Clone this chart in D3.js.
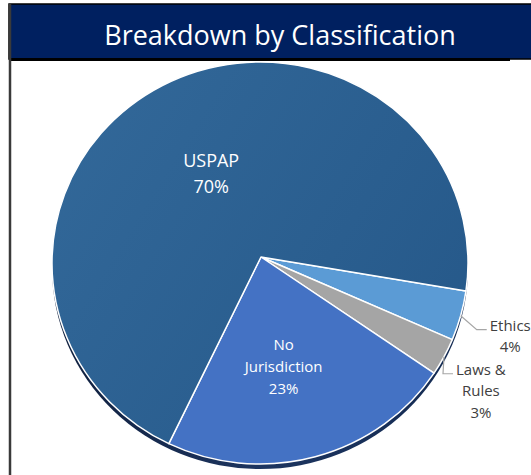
<!DOCTYPE html>
<html>
<head>
<meta charset="utf-8">
<script src="https://cdn.jsdelivr.net/npm/d3@7"></script>
<style>
  html, body { margin: 0; padding: 0; background: #ffffff; overflow: hidden; }
  text { font-family: 'Open Sans', 'Liberation Sans', sans-serif; }
</style>
</head>
<body>
<script>
// Data
const title = 'Breakdown by Classification';
const categories = ['Ethics', 'Laws & Rules', 'No Jurisdiction', 'USPAP'];
const shares = [4, 3, 23, 70];
const labelNames = [['Ethics'], ['Laws &', 'Rules'], ['No', 'Jurisdiction'], ['USPAP']];

// Layout / style
const W = 531, H = 475;
const cx = 260, cy = 263, rx = 208, ry = 201;
const apex = { x: 261, y: 257 }; // slightly tilted pie: slices meet above the rim centre
const firstSliceAngle = 98; // degrees, clockwise from 12 o'clock
const colors = {
  'Ethics': '#5b9bd5',
  'Laws & Rules': '#a5a5a5',
  'No Jurisdiction': '#4472c4',
  'USPAP': 'url(#uspapGrad)'
};
const inside = { 'No Jurisdiction': true, 'USPAP': true };
const fontSizes = { 'USPAP': 18, 'No Jurisdiction': 15, 'Ethics': 15, 'Laws & Rules': 15 };
const insideNudges = { 'USPAP': [0, -1], 'No Jurisdiction': [-4, 6] };
const leaderOffsets = { 'Ethics': [16, 14], 'Laws & Rules': [-1, 17] };

const rows = categories.map((c, i) => ({ category: c, share: shares[i], lines: labelNames[i].concat([shares[i] + '%']) }));

const svg = d3.select('body').append('svg')
  .attr('width', W)
  .attr('height', H)
  .attr('xmlns', 'http://www.w3.org/2000/svg');

const defs = svg.append('defs');
const g1 = defs.append('linearGradient')
  .attr('id', 'uspapGrad')
  .attr('gradientUnits', 'userSpaceOnUse')
  .attr('x1', cx - rx).attr('y1', cy - ry).attr('x2', cx + rx).attr('y2', cy + ry * 0.3);
g1.append('stop').attr('offset', '0%').attr('stop-color', '#33699a');
g1.append('stop').attr('offset', '100%').attr('stop-color', '#26598a');

const g2 = defs.append('linearGradient')
  .attr('id', 'shadowGrad')
  .attr('x1', '0%').attr('x2', '100%');
g2.append('stop').attr('offset', '0%').attr('stop-color', '#0f1f3d');
g2.append('stop').attr('offset', '50%').attr('stop-color', '#1d3560');
g2.append('stop').attr('offset', '100%').attr('stop-color', '#132a52');

svg.append('rect').attr('width', W).attr('height', H).attr('fill', '#ffffff');

// frame
svg.append('rect')
  .attr('x', 9).attr('y', 4).attr('width', W).attr('height', 55)
  .attr('fill', '#002060')
  .attr('stroke', '#000000').attr('stroke-width', 1.5);
svg.append('line')
  .attr('x1', 9).attr('x2', 510).attr('y1', 59.5).attr('y2', 59.5)
  .attr('stroke', '#000000').attr('stroke-width', 3);
svg.append('line')
  .attr('x1', 10).attr('x2', 10).attr('y1', 4).attr('y2', H)
  .attr('stroke', '#3a3a3a').attr('stroke-width', 2.5);

svg.append('text')
  .attr('x', 280).attr('y', 45)
  .attr('text-anchor', 'middle')
  .attr('fill', '#ffffff')
  .style('font-size', '27px')
  .text(title);

// pie
const pie = d3.pie()
  .sort(null)
  .value(d => d.share)
  .startAngle(firstSliceAngle * Math.PI / 180)
  .endAngle(firstSliceAngle * Math.PI / 180 + 2 * Math.PI);
const arcs = pie(rows);

const rim = a => [cx + rx * Math.sin(a), cy - ry * Math.cos(a)];

function slicePath(d) {
  const p0 = rim(d.startAngle);
  const p1 = rim(d.endAngle);
  const large = d.endAngle - d.startAngle > Math.PI ? 1 : 0;
  const p = d3.path();
  p.moveTo(apex.x, apex.y);
  p.lineTo(p0[0], p0[1]);
  return p.toString() + `A${rx},${ry} 0 ${large} 1 ${p1[0]},${p1[1]}Z`;
}

// 3D rim / shadow
svg.append('ellipse')
  .attr('cx', cx).attr('cy', cy + 5)
  .attr('rx', rx).attr('ry', ry)
  .attr('fill', 'url(#shadowGrad)');

svg.append('g')
  .selectAll('path.slice')
  .data(arcs)
  .enter()
  .append('path')
  .attr('class', 'slice')
  .attr('d', slicePath)
  .attr('fill', d => colors[d.data.category])
  .attr('stroke', '#ffffff')
  .attr('stroke-width', 1.5)
  .attr('stroke-linejoin', 'round');

// labels
const labelG = svg.append('g');

for (const a of arcs) {
  const cat = a.data.category;
  const fs = fontSizes[cat];
  const lh = fs * 1.45;
  const lines = a.data.lines;
  const mid = (a.startAngle + a.endAngle) / 2;
  if (inside[cat]) {
    const n = insideNudges[cat];
    const x = cx + rx * 0.5 * Math.sin(mid) + n[0];
    const y = cy - ry * 0.5 * Math.cos(mid) + n[1];
    const t = labelG.append('text')
      .attr('text-anchor', 'middle')
      .attr('fill', '#ffffff')
      .style('font-size', fs + 'px');
    lines.forEach((ln, i) => {
      t.append('tspan')
        .attr('x', x)
        .attr('y', y + (i - (lines.length - 1) / 2) * lh)
        .attr('dominant-baseline', 'central')
        .text(ln);
    });
  } else {
    const [ex, ey] = rim(mid);
    const off = leaderOffsets[cat];
    const bx = ex + off[0], by = ey + off[1];
    const hx = bx + 10;
    labelG.append('polyline')
      .attr('points', [[ex, ey], [bx, by], [hx, by]].map(p => p.join(',')).join(' '))
      .attr('fill', 'none')
      .attr('stroke', '#a6a6a6')
      .attr('stroke-width', 1.2);
    const t = labelG.append('text')
      .attr('text-anchor', 'middle')
      .attr('fill', '#404040')
      .style('font-size', fs + 'px');
    const spans = lines.map((ln, i) => t.append('tspan')
      .attr('y', by - 5 + i * lh)
      .attr('dominant-baseline', 'central')
      .text(ln));
    const maxW = d3.max(spans, s => s.node().getComputedTextLength());
    spans.forEach(s => s.attr('x', hx + 3 + maxW / 2));
  }
}
</script>
</body>
</html>
